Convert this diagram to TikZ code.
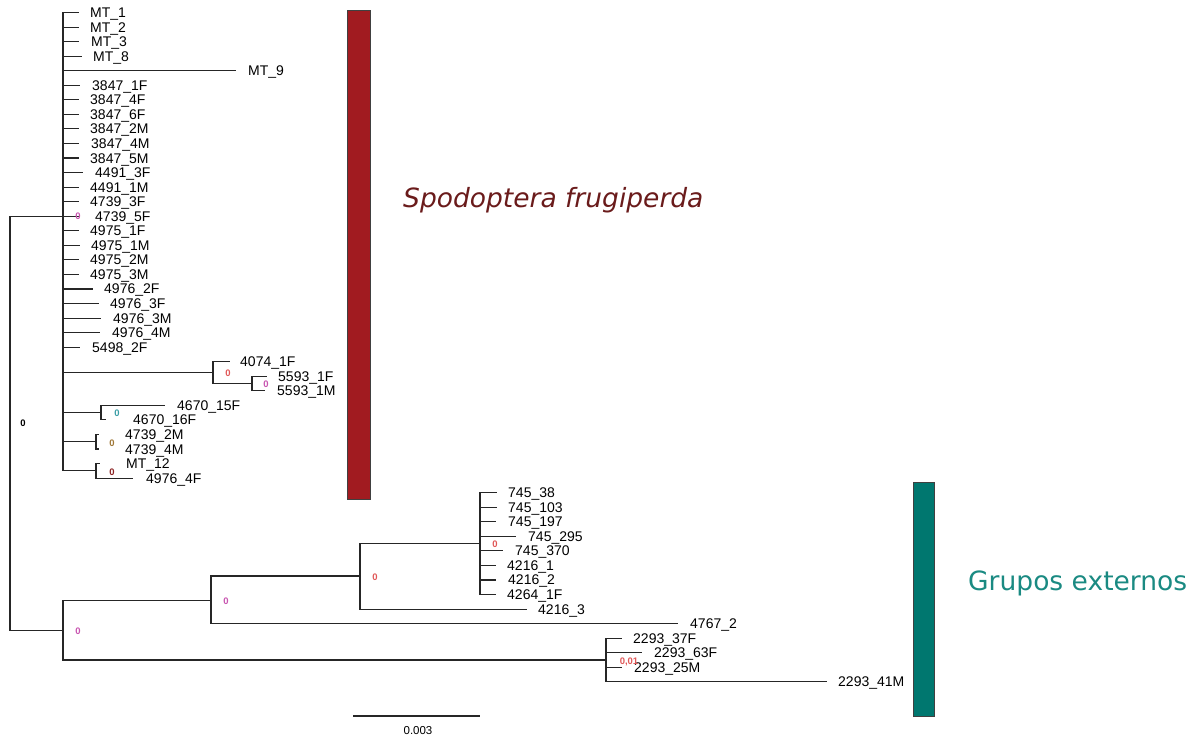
\documentclass[tikz,border=0pt]{standalone}
\usepackage{fontspec}
\setmainfont{Liberation Sans}
\newfontfamily\verd{DejaVu Sans}
\definecolor{supmag}{HTML}{C855B0}
\definecolor{supred}{HTML}{E05858}
\definecolor{supteal}{HTML}{3A9EA6}
\definecolor{supbrown}{HTML}{A07838}
\definecolor{supdark}{HTML}{8B2222}
\definecolor{barred}{HTML}{A11B20}
\definecolor{barteal}{HTML}{00776F}
\definecolor{txtred}{HTML}{6A1B1B}
\definecolor{txtteal}{HTML}{1A8A82}
\newcommand\leaf[6]{%
  \coordinate (#2e) at (#4,#3);
  \node[lf] (#2) at (#5,#3) {#6};
  \draw[br] (#1) |- (#2e);}
\begin{document}
\begin{tikzpicture}[x=1pt,y=-1pt,
  br/.style={line width=1.1pt, draw=black!85},
  lf/.style={anchor=west, inner sep=0pt, font=\fontsize{14}{14}\selectfont, text height=10pt, text depth=0pt},
  suplab/.style={inner sep=0pt, font=\fontsize{9.5}{10}\selectfont\bfseries}]
\useasboundingbox (0,0) rectangle (1203,740);
% internal nodes
\coordinate (R) at (10,423.2);
\coordinate (S) at (63,216.2);
\coordinate (A) at (213,372.6);
\coordinate (B) at (252,383.5);
\coordinate (C) at (101,412.6);
\coordinate (D) at (96,441.7);
\coordinate (E) at (96,470.8);
\coordinate (O) at (63,630.2);
\coordinate (F) at (211,600.3);
\coordinate (H) at (360,576.0);
\coordinate (P) at (480,543.6);
\coordinate (G) at (606,660.0);
\draw[br] (R) |- (S);
\draw[br] (R) |- (O);
\draw[br] (S) |- (A);
\draw[br] (A) |- (B);
\draw[br] (S) |- (C);
\draw[br] (S) |- (D);
\draw[br] (S) |- (E);
\draw[br] (O) |- (F);
\draw[br] (O) |- (G);
\draw[br] (F) |- (H);
\draw[br] (H) |- (P);
% Spodoptera leaves
\leaf{S}{L1}{12.5}{79}{90}{MT\_1}
\leaf{S}{L2}{27.05}{79}{90}{MT\_2}
\leaf{S}{L3}{41.6}{79}{91}{MT\_3}
\leaf{S}{L4}{56.15}{82}{93}{MT\_8}
\leaf{S}{L5}{70.7}{236}{248}{MT\_9}
\leaf{S}{L6}{85.25}{80}{92}{3847\_1F}
\leaf{S}{L7}{99.8}{79}{90}{3847\_4F}
\leaf{S}{L8}{114.35}{79}{90}{3847\_6F}
\leaf{S}{L9}{128.9}{79}{90}{3847\_2M}
\leaf{S}{L10}{143.45}{79}{91}{3847\_4M}
\leaf{S}{L11}{158.0}{79}{90}{3847\_5M}
\leaf{S}{L12}{172.55}{83}{95}{4491\_3F}
\leaf{S}{L13}{187.1}{79}{90}{4491\_1M}
\leaf{S}{L14}{201.65}{79}{90}{4739\_3F}
\leaf{S}{L15}{216.2}{79}{95}{4739\_5F}
\leaf{S}{L16}{230.75}{79}{90}{4975\_1F}
\leaf{S}{L17}{245.3}{80}{91}{4975\_1M}
\leaf{S}{L18}{259.85}{79}{90}{4975\_2M}
\leaf{S}{L19}{274.4}{79}{90}{4975\_3M}
\leaf{S}{L20}{288.95}{93}{104}{4976\_2F}
\leaf{S}{L21}{303.5}{99}{110}{4976\_3F}
\leaf{S}{L22}{318.05}{101}{113}{4976\_3M}
\leaf{S}{L23}{332.6}{100}{112}{4976\_4M}
\leaf{S}{L24}{347.15}{80}{92}{5498\_2F}
\leaf{A}{L25}{361.7}{230}{240}{4074\_1F}
\leaf{B}{L26}{376.25}{267}{278}{5593\_1F}
\leaf{B}{L27}{390.8}{265}{277}{5593\_1M}
\leaf{C}{L28}{405.35}{165}{177}{4670\_15F}
\leaf{C}{L29}{419.9}{106}{133}{4670\_16F}
\leaf{D}{L30}{434.45}{99}{125}{4739\_2M}
\leaf{D}{L31}{449.0}{99}{125}{4739\_4M}
\leaf{E}{L32}{463.55}{100}{126}{MT\_12}
\leaf{E}{L33}{478.1}{133}{146}{4976\_4F}
% outgroup leaves
\leaf{P}{L34}{492.65}{497}{508}{745\_38}
\leaf{P}{L35}{507.2}{497}{508}{745\_103}
\leaf{P}{L36}{521.75}{496}{508}{745\_197}
\leaf{P}{L37}{536.3}{516}{528}{745\_295}
\leaf{P}{L38}{550.85}{503}{515}{745\_370}
\leaf{P}{L39}{565.4}{496}{507}{4216\_1}
\leaf{P}{L40}{579.95}{496}{508}{4216\_2}
\leaf{P}{L41}{594.5}{496}{507}{4264\_1F}
\leaf{H}{L42}{609.05}{527}{538}{4216\_3}
\leaf{F}{L43}{623.6}{678}{690}{4767\_2}
\leaf{G}{L44}{638.15}{622}{633}{2293\_37F}
\leaf{G}{L45}{652.7}{642}{654}{2293\_63F}
\leaf{G}{L46}{667.25}{622}{634}{2293\_25M}
\leaf{G}{L47}{681.8}{827}{838}{2293\_41M}
% support values
\node[suplab, text=black] (sR) at (23,423) {0};
\node[suplab, text=supmag] (sS) at (78,216) {0};
\node[suplab, text=supred] (sA) at (228,373) {0};
\node[suplab, text=supmag] (sB) at (266,384) {0};
\node[suplab, text=supteal] (sC) at (117,413) {0};
\node[suplab, text=supbrown] (sD) at (112,443) {0};
\node[suplab, text=supdark] (sE) at (112,472) {0};
\node[suplab, text=supmag] (sO) at (78,631) {0};
\node[suplab, text=supmag] (sF) at (226,601) {0};
\node[suplab, text=supred] (sH) at (375,577) {0};
\node[suplab, text=supred] (sP) at (495,544) {0};
\node[suplab, text=supred] (sG) at (629,662) {0,01};
% clade bars
\draw[draw=black!75, line width=0.8pt, fill=barred] (347,10) rectangle (370,499);
\draw[draw=black!75, line width=0.8pt, fill=barteal] (913,482) rectangle (934,716);
\node[anchor=west, inner sep=0pt, text=txtred, font=\verd\itshape\fontsize{26.5}{30}\selectfont] (spf) at (403,200) {Spodoptera frugiperda};
\node[anchor=west, inner sep=0pt, text=txtteal, font=\verd\fontsize{26.5}{30}\selectfont] (gex) at (968,583) {Grupos externos};
% scale bar
\coordinate (sb1) at (353,716);
\coordinate (sb2) at (480,716);
\draw[line width=1.1pt, draw=black!85] (sb1) -- (sb2);
\node[inner sep=0pt, font=\fontsize{11.5}{12}\selectfont] (sbl) at (418,731) {0.003};
\end{tikzpicture}
\end{document}
